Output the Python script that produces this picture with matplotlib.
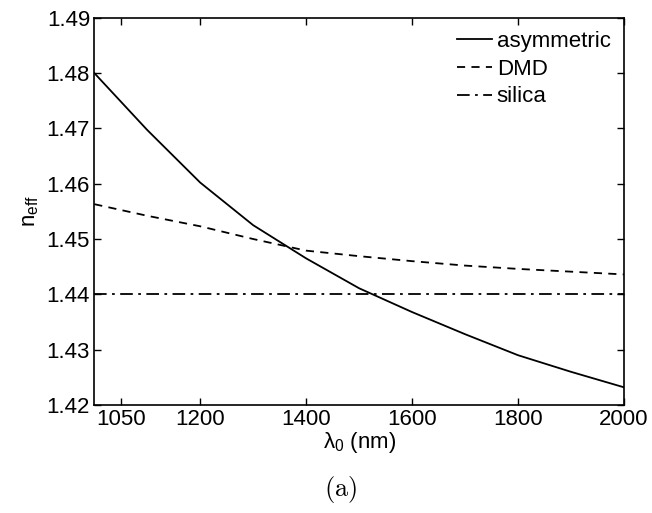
import matplotlib
matplotlib.use("Agg")
import matplotlib.pyplot as plt

plt.rcParams['font.family'] = ['Liberation Sans', 'DejaVu Sans']
plt.rcParams['mathtext.fontset'] = 'custom'
plt.rcParams['mathtext.rm'] = 'Liberation Sans'

wavelength = [1000, 1100, 1200, 1300, 1400, 1500, 1600, 1700, 1800, 1900, 2000]
asymmetric = [1.4800, 1.4697, 1.4602, 1.4525, 1.4465, 1.4411, 1.4368, 1.4328, 1.4290, 1.4260, 1.4232]
dmd = [1.4563, 1.4542, 1.4523, 1.4500, 1.4479, 1.4469, 1.4460, 1.4452, 1.4446, 1.4441, 1.4436]
silica = [1.4400] * len(wavelength)

x_ticks = [1050, 1200, 1400, 1600, 1800, 2000]
y_ticks = [1.42, 1.43, 1.44, 1.45, 1.46, 1.47, 1.48, 1.49]

fig = plt.figure(figsize=(6.52, 5.13), dpi=100)
ax = fig.add_axes([0.1446, 0.2105, 0.957 - 0.1446, 0.9655 - 0.2105])

ax.plot(wavelength, asymmetric, color='black', lw=1.3, linestyle='-', label='asymmetric')
ax.plot(wavelength, dmd, color='black', lw=1.3, linestyle=(0, (4.5, 3.5)), label='DMD')
ax.plot(wavelength, silica, color='black', lw=1.3, linestyle=(0, (7, 3, 1.5, 3)), label='silica')

ax.set_xlim(1000, 2000)
ax.set_ylim(1.42, 1.49)
ax.set_xticks(x_ticks)
ax.set_xticklabels([str(t) for t in x_ticks])
ax.set_yticks(y_ticks)
ax.set_yticklabels([f"{t:.2f}" for t in y_ticks])
ax.tick_params(direction='in', top=True, right=True, length=5, width=1, labelsize=16, pad=3)
for s in ax.spines.values():
    s.set_linewidth(1.2)

ax.set_xlabel(r'$\mathregular{\lambda_0}$ (nm)', fontsize=16, labelpad=0)
ax.set_ylabel(r'$\mathregular{n_{eff}}$', fontsize=16, labelpad=4)

leg = ax.legend(loc='upper right', frameon=False, fontsize=16, handlelength=1.6,
                handletextpad=0.2, labelspacing=0.3, borderaxespad=0.2)

fig.text(0.522, 0.045, r'$\mathrm{(a)}$', ha='center', va='center', fontsize=19, math_fontfamily='cm')

fig.savefig('out.png', dpi=100)
